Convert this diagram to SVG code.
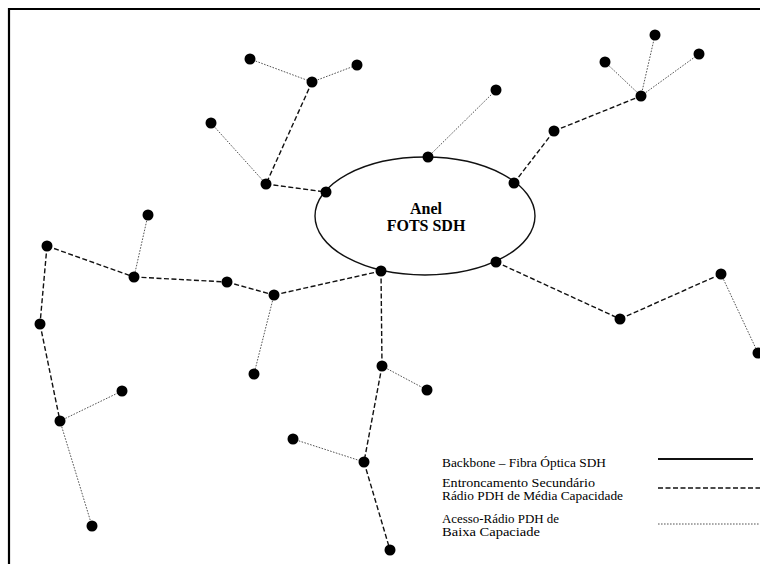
<svg xmlns="http://www.w3.org/2000/svg" width="760" height="564" viewBox="0 0 760 564">
<style>
.n{fill:#000}
.dash{stroke:#111;stroke-width:1.4;stroke-dasharray:5 2.5;fill:none}
.dot{stroke:#555;stroke-width:1;stroke-dasharray:1.6 1.4;fill:none}
.solid{stroke:#111;stroke-width:2;fill:none}
.lbl{font-family:"Liberation Serif","DejaVu Serif",serif;font-size:12px;fill:#000}
.ring{font-family:"Liberation Serif","DejaVu Serif",serif;font-size:16px;font-weight:bold;fill:#000;text-anchor:middle}
</style>
<rect width="760" height="564" fill="#fff"/>
<path d="M9,564 V9 H760" fill="none" stroke="#000" stroke-width="2.2"/>
<g id="ring">
<ellipse cx="425" cy="216" rx="110" ry="59" fill="none" stroke="#111" stroke-width="1.4"/>
<text class="ring" x="426" y="214">Anel</text>
<text class="ring" x="426" y="231">FOTS SDH</text>
</g>
<g id="connectors">
<line class="dot" x1="250" y1="59" x2="312" y2="82"/>
<line class="dot" x1="312" y1="82" x2="357" y2="65"/>
<line class="dash" x1="312" y1="82" x2="266" y2="184"/>
<line class="dot" x1="211" y1="123" x2="266" y2="184"/>
<line class="dash" x1="266" y1="184" x2="326" y2="192"/>
<line class="dot" x1="428" y1="157" x2="496" y2="90"/>
<line class="dash" x1="514" y1="183" x2="554" y2="131"/>
<line class="dash" x1="554" y1="131" x2="641" y2="96"/>
<line class="dot" x1="641" y1="96" x2="605" y2="62"/>
<line class="dot" x1="641" y1="96" x2="655" y2="35"/>
<line class="dot" x1="641" y1="96" x2="699" y2="54"/>
<line class="dot" x1="148" y1="215" x2="134" y2="277"/>
<line class="dash" x1="47" y1="246" x2="134" y2="277"/>
<line class="dash" x1="134" y1="277" x2="227" y2="282"/>
<line class="dash" x1="227" y1="282" x2="274" y2="295"/>
<line class="dash" x1="274" y1="295" x2="381" y2="271"/>
<line class="dot" x1="274" y1="295" x2="254" y2="374"/>
<line class="dash" x1="47" y1="246" x2="40" y2="324"/>
<line class="dash" x1="40" y1="324" x2="60" y2="421"/>
<line class="dot" x1="60" y1="421" x2="122" y2="391"/>
<line class="dot" x1="60" y1="421" x2="92" y2="526"/>
<line class="dash" x1="381" y1="271" x2="382" y2="366"/>
<line class="dot" x1="382" y1="366" x2="427" y2="390"/>
<line class="dash" x1="382" y1="366" x2="364" y2="462"/>
<line class="dot" x1="293" y1="439" x2="364" y2="462"/>
<line class="dash" x1="364" y1="462" x2="390" y2="550"/>
<line class="dash" x1="496" y1="262" x2="620" y2="319"/>
<line class="dash" x1="620" y1="319" x2="721" y2="274"/>
<line class="dot" x1="721" y1="274" x2="758" y2="353"/>
</g>
<g id="nodes">
<circle id="n1" class="n" cx="250" cy="59" r="5.5"/>
<circle id="n2" class="n" cx="312" cy="82" r="5.5"/>
<circle id="n3" class="n" cx="357" cy="65" r="5.5"/>
<circle id="n4" class="n" cx="211" cy="123" r="5.5"/>
<circle id="n5" class="n" cx="266" cy="184" r="5.5"/>
<circle id="n6" class="n" cx="326" cy="192" r="5.5"/>
<circle id="n7" class="n" cx="428" cy="157" r="5.5"/>
<circle id="n8" class="n" cx="496" cy="90" r="5.5"/>
<circle id="n9" class="n" cx="514" cy="183" r="5.5"/>
<circle id="n10" class="n" cx="554" cy="131" r="5.5"/>
<circle id="n11" class="n" cx="641" cy="96" r="5.5"/>
<circle id="n12" class="n" cx="605" cy="62" r="5.5"/>
<circle id="n13" class="n" cx="655" cy="35" r="5.5"/>
<circle id="n14" class="n" cx="699" cy="54" r="5.5"/>
<circle id="n15" class="n" cx="148" cy="215" r="5.5"/>
<circle id="n16" class="n" cx="47" cy="246" r="5.5"/>
<circle id="n17" class="n" cx="134" cy="277" r="5.5"/>
<circle id="n18" class="n" cx="227" cy="282" r="5.5"/>
<circle id="n19" class="n" cx="274" cy="295" r="5.5"/>
<circle id="n20" class="n" cx="381" cy="271" r="5.5"/>
<circle id="n21" class="n" cx="496" cy="262" r="5.5"/>
<circle id="n22" class="n" cx="620" cy="319" r="5.5"/>
<circle id="n23" class="n" cx="721" cy="274" r="5.5"/>
<circle id="n24" class="n" cx="758" cy="353" r="5.5"/>
<circle id="n25" class="n" cx="40" cy="324" r="5.5"/>
<circle id="n26" class="n" cx="254" cy="374" r="5.5"/>
<circle id="n27" class="n" cx="382" cy="366" r="5.5"/>
<circle id="n28" class="n" cx="427" cy="390" r="5.5"/>
<circle id="n29" class="n" cx="122" cy="391" r="5.5"/>
<circle id="n30" class="n" cx="60" cy="421" r="5.5"/>
<circle id="n31" class="n" cx="293" cy="439" r="5.5"/>
<circle id="n32" class="n" cx="364" cy="462" r="5.5"/>
<circle id="n33" class="n" cx="92" cy="526" r="5.5"/>
<circle id="n34" class="n" cx="390" cy="550" r="5.5"/>
</g>
<g id="legend">
<text class="lbl" x="442" y="467" textLength="164" lengthAdjust="spacingAndGlyphs">Backbone – Fibra Óptica SDH</text>
<text class="lbl" x="442" y="486.5" textLength="153" lengthAdjust="spacingAndGlyphs">Entroncamento Secundário</text>
<text class="lbl" x="442" y="500" textLength="181" lengthAdjust="spacingAndGlyphs">Rádio PDH de Média Capacidade</text>
<text class="lbl" x="442" y="522.5" textLength="117" lengthAdjust="spacingAndGlyphs">Acesso-Rádio PDH de</text>
<text class="lbl" x="442" y="536" textLength="98" lengthAdjust="spacingAndGlyphs">Baixa Capaciade</text>
<line class="solid" x1="658" y1="459" x2="753" y2="459"/>
<line class="dash" x1="658" y1="488" x2="760" y2="488"/>
<line class="dot" x1="658" y1="524" x2="760" y2="524"/>
</g>
</svg>
